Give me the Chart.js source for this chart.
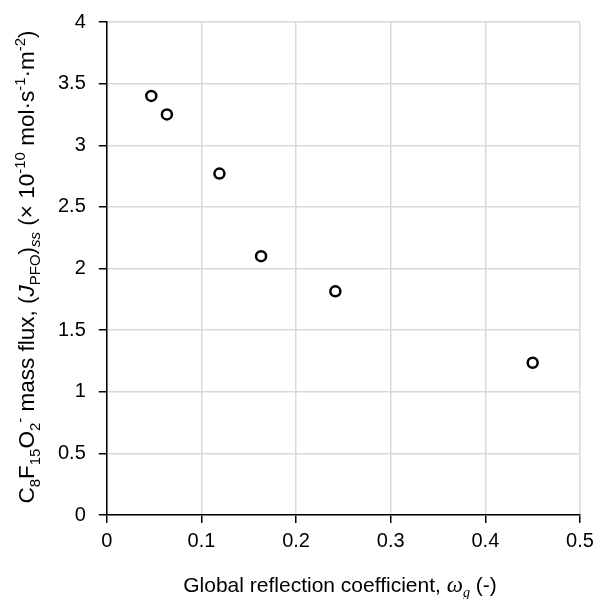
<!DOCTYPE html>
<html lang="en">
<head>
    <meta charset="UTF-8">
    <title>PFO flux vs reflection coefficient</title>
    <style>
        body { margin: 0; background: #fff; }
        #wrap { width: 596px; height: 599px; }
    </style>
    <script src="https://cdn.jsdelivr.net/npm/chart.js"></script>
</head>
<body>
<div id="wrap"><canvas id="grafico"></canvas></div>

<script>
    // global reflection coefficient (x) and steady-state mass flux (y, x 1e-10 mol/s/m2)
    const omegaG = [0.047, 0.0635, 0.119, 0.163, 0.2415, 0.45];
    const fluxSS = [3.40, 3.25, 2.77, 2.10, 1.815, 1.235];

    const xTicks = { min: 0, max: 0.5, step: 0.1 };
    const yTicks = { min: 0, max: 4, step: 0.5 };

    const SANS = '"Liberation Sans", Arial, sans-serif';
    const SERIF = '"Liberation Serif", "Times New Roman", serif';

    // rich text pieces: t = text, s = 'sub' | 'sup', i = italic, f = font family
    const xTitle = [
        { t: 'Global reflection coefficient, ' },
        { t: 'ω', i: true, f: SERIF, size: 23 },
        { t: 'g', i: true, f: SERIF, s: 'sub' },
        { t: ' (-)' }
    ];
    const yTitle = [
        { t: 'C' }, { t: '8', s: 'sub' },
        { t: 'F' }, { t: '15', s: 'sub' },
        { t: 'O' }, { t: '2', s: 'sub' }, { t: '-', s: 'sup' },
        { t: ' mass flux, (' },
        { t: 'J', i: true }, { t: 'PFO', s: 'sub' },
        { t: ')' }, { t: 'ss', s: 'sub', i: true },
        { t: ' (× 10' }, { t: '-10', s: 'sup' },
        { t: ' mol·s' }, { t: '-1', s: 'sup' },
        { t: '·m' }, { t: '-2', s: 'sup' },
        { t: ')' }
    ];

    function fontFor(p, base) {
        const size = p.s ? Math.round(base * 0.65) : (p.size || base);
        return (p.i ? 'italic ' : '') + size + 'px ' + (p.f || SANS);
    }

    function drawRich(ctx, parts, base) {
        let total = 0;
        parts.forEach(p => { ctx.font = fontFor(p, base); total += ctx.measureText(p.t).width; });
        let x = -total / 2;
        parts.forEach(p => {
            ctx.font = fontFor(p, base);
            let dy = 0;
            if (p.s === 'sub') dy = base * 0.25;
            if (p.s === 'sup') dy = -base * 0.4;
            ctx.fillText(p.t, x, dy);
            x += ctx.measureText(p.t).width;
        });
    }

    const titulos = {
        id: 'titulos',
        afterDraw(chart) {
            const ctx = chart.ctx;
            ctx.save();
            ctx.fillStyle = '#000';
            ctx.textBaseline = 'alphabetic';
            ctx.save();
            ctx.translate(340, 592);
            drawRich(ctx, xTitle, 21);
            ctx.restore();
            ctx.save();
            ctx.translate(34, 267);
            ctx.rotate(-Math.PI / 2);
            drawRich(ctx, yTitle, 22.5);
            ctx.restore();
            ctx.restore();
        }
    };

    const pontos = omegaG.map((x, i) => ({ x: x, y: fluxSS[i] }));
    const rotulo = v => String(+v.toFixed(1));

    new Chart(document.getElementById('grafico'), {
        type: 'scatter',
        data: {
            datasets: [{
                data: pontos,
                pointRadius: 5,
                pointHoverRadius: 5,
                borderWidth: 2.5,
                borderColor: '#000',
                backgroundColor: '#fff'
            }]
        },
        plugins: [titulos],
        options: {
            responsive: true,
            maintainAspectRatio: false,
            animation: false,
            layout: { padding: { left: 45, right: 16, top: 22, bottom: 40 } },
            plugins: {
                legend: { display: false },
                tooltip: { enabled: false }
            },
            scales: {
                x: {
                    type: 'linear',
                    min: xTicks.min,
                    max: xTicks.max,
                    afterFit: s => { s.paddingRight = 0; },
                    ticks: { stepSize: xTicks.step, color: '#000', font: { family: SANS, size: 20 }, padding: 6, callback: rotulo },
                    grid: { color: '#d9d9d9', lineWidth: 1.5, tickColor: '#000', tickLength: 8 },
                    border: { color: '#000', width: 1.5 }
                },
                y: {
                    min: yTicks.min,
                    max: yTicks.max,
                    afterFit: s => { s.paddingTop = 0; },
                    ticks: { stepSize: yTicks.step, color: '#000', font: { family: SANS, size: 20 }, padding: 13, callback: rotulo },
                    grid: { color: '#d9d9d9', lineWidth: 1.5, tickColor: '#000', tickLength: 8 },
                    border: { color: '#000', width: 1.5 }
                }
            }
        }
    });
</script>
</body>
</html>
